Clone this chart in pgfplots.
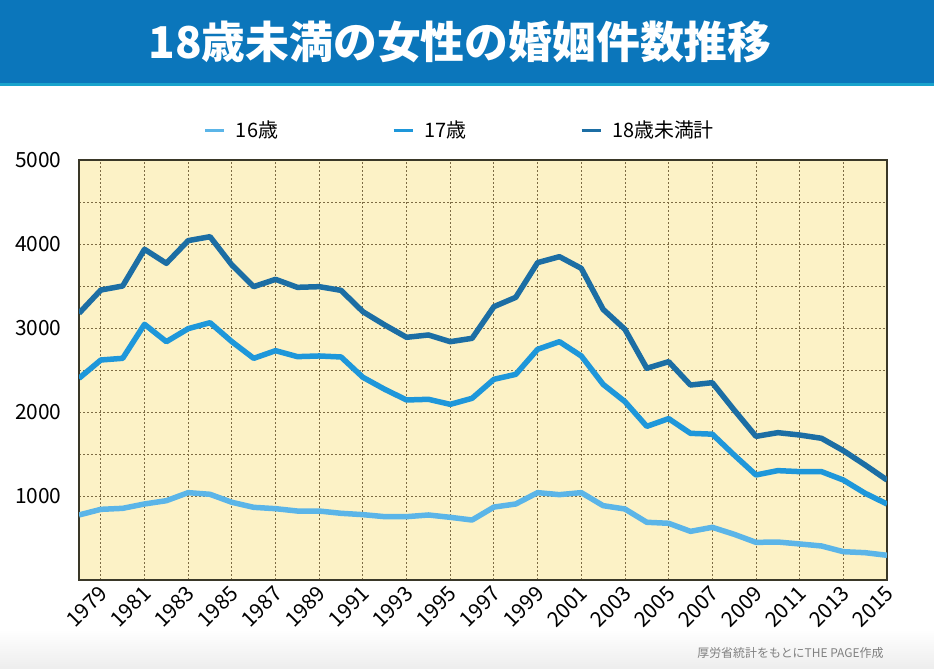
\documentclass[border=0pt]{standalone}
\usepackage{pgfplots}
\usepackage{pgfplotstable}
\pgfplotsset{compat=1.18}
\usepackage{fontspec}
\setmainfont{Noto Sans CJK JP}
\definecolor{c16}{HTML}{5BB5E8}
\definecolor{c17}{HTML}{1E97DA}
\definecolor{c18}{HTML}{1C6EA4}
\definecolor{band}{HTML}{0B76BB}
\definecolor{bandline}{HTML}{19A3CC}
\definecolor{plotbg}{HTML}{FCF2C6}
\definecolor{gridc}{HTML}{7D6C44}
\definecolor{axisc}{HTML}{3A3828}

\pgfplotstableread{
year a16 a17 a18
1978 774 2401 3175
1979 841 2619 3452
1980 853 2639 3500
1981 905 3044 3937
1982 944 2837 3770
1983 1040 2992 4040
1984 1020 3063 4087
1985 925 2837 3750
1986 865 2639 3492
1987 849 2730 3579
1988 821 2659 3484
1989 821 2667 3492
1990 794 2655 3448
1991 778 2413 3194
1992 754 2270 3036
1993 754 2143 2889
1994 774 2151 2917
1995 746 2091 2837
1996 714 2163 2877
1997 868 2389 3254
1998 905 2448 3365
1999 1040 2746 3778
2000 1016 2837 3849
2001 1040 2667 3710
2002 885 2329 3222
2003 845 2123 2984
2004 687 1829 2520
2005 675 1921 2599
2006 579 1746 2321
2007 627 1736 2349
2008 544 1488 2024
2009 448 1250 1710
2010 452 1302 1754
2011 429 1290 1726
2012 405 1290 1687
2013 337 1190 1540
2014 325 1032 1369
2015 294 905 1190
}\data

\begin{document}
\begin{tikzpicture}[x=1bp,y=1bp]
\fill[white] (0,0) rectangle (934,669);
\shade[top color=white,bottom color=black!7] (0,0) rectangle (934,40);
\fill[band] (0,586) rectangle (934,669);
\fill[bandline] (0,583) rectangle (934,586);
\node[text=white,font=\fontsize{44}{48}\selectfont\bfseries] at (460,627) {18歳未満の女性の婚姻件数推移};
\node[anchor=east,text=black!50,font=\fontsize{12}{14}\selectfont] at (887,16) {厚労省統計をもとにTHE PAGE作成};
\begin{axis}[
  at={(79bp,89bp)}, anchor=south west, scale only axis,
  width=808bp, height=420bp,
  xmin=1978, xmax=2015, ymin=0, ymax=5000,
  xtick={1979,1981,...,2015}, minor x tick num=1,
  ytick={1000,2000,...,5000}, minor y tick num=1,
  grid=both,
  major grid style={gridc, dash pattern=on 1.6bp off 2.4bp, line width=0.9bp},
  minor grid style={gridc, dash pattern=on 1.6bp off 2.4bp, line width=0.9bp},
  tick style={draw=none},
  axis line style={axisc, line width=1.8bp},
  axis background/.style={fill=plotbg},
  /pgf/number format/1000 sep={},
  /pgf/number format/assume math mode=true,
  ticklabel style={font=\fontsize{21}{22}\selectfont},
  xticklabel style={rotate=45, anchor=east, yshift=-9bp, xshift=-2bp},
  yticklabel style={xshift=-14bp},
  legend columns=3,
  legend style={at={(0.1547,1.0714)}, anchor=west, draw=none, fill=none,
    inner sep=0pt, outer sep=0pt,
    font=\fontsize{20}{22}\selectfont,
    /tikz/every even column/.append style={column sep=112bp},
    /tikz/every odd column/.append style={column sep=8bp}},
  legend image code/.code={\draw[#1, line width=3bp] (0bp,0bp) -- (19bp,0bp);},
]
\addplot[c16, line width=5.5bp, line join=round] table[x=year,y=a16] {\data};
\addlegendentry{16歳}
\addplot[c17, line width=5.5bp, line join=round] table[x=year,y=a17] {\data};
\addlegendentry{17歳}
\addplot[c18, line width=5.5bp, line join=round] table[x=year,y=a18] {\data};
\addlegendentry{18歳未満計}
\end{axis}
\end{tikzpicture}
\end{document}
